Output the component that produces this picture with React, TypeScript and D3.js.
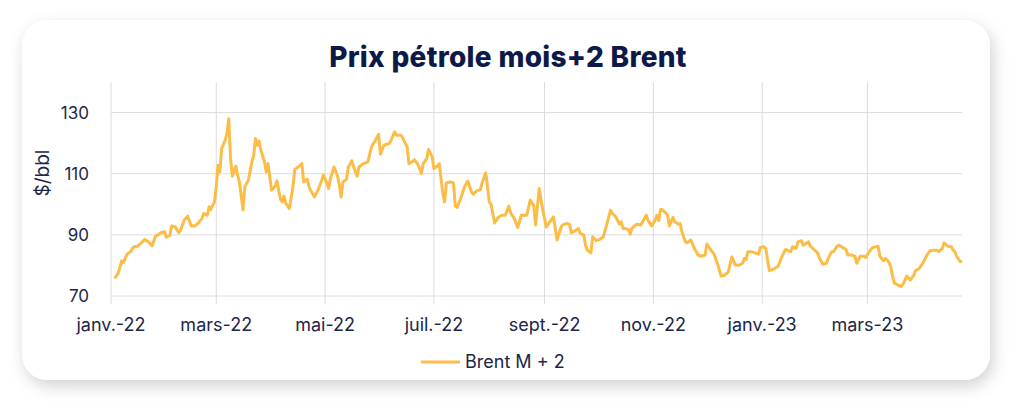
import { useMemo } from "react";
import * as d3 from "d3";

// Brent M+2: day offset from 2022-01-01 and $/bbl
const dayOffsets = [
    2, 4, 6, 7, 9, 11, 12, 13, 15, 17, 19, 21, 23, 25, 26, 28, 30, 31, 33, 34,
    36, 38, 39, 41, 43, 45, 47, 49, 51, 52, 54, 55, 56, 58, 59, 60, 61, 62, 64, 65,
    66, 67, 68, 70, 71, 72, 74, 75, 77, 79, 80, 81, 82, 83, 84, 86, 87, 88, 90, 92,
    93, 95, 96, 97, 98, 100, 102, 103, 105, 107, 108, 110, 111, 112, 114, 116, 118, 119, 120, 122,
    123, 125, 127, 128, 129, 130, 132, 133, 135, 136, 138, 139, 141, 144, 146, 148, 150, 151, 153, 156,
    157, 159, 160, 162, 163, 165, 166, 167, 169, 170, 172, 174, 175, 177, 178, 180, 181, 183, 184, 186,
    187, 188, 190, 192, 193, 194, 196, 198, 200, 202, 203, 205, 207, 208, 210, 211, 212, 213, 215, 217,
    219, 221, 223, 224, 226, 228, 230, 232, 233, 235, 237, 238, 239, 240, 242, 243, 244, 246, 248, 250,
    252, 253, 255, 257, 258, 260, 262, 263, 265, 266, 267, 269, 270, 272, 274, 276, 278, 280, 281, 283,
    285, 286, 287, 288, 290, 291, 292, 294, 295, 297, 300, 301, 303, 305, 306, 307, 308, 309, 312, 313,
    315, 316, 318, 319, 320, 322, 323, 325, 327, 329, 331, 333, 334, 336, 338, 340, 342, 344, 346, 348,
    350, 352, 354, 355, 356, 357, 359, 361, 363, 364, 366, 367, 369, 370, 372, 374, 376, 378, 379, 381,
    382, 384, 385, 387, 388, 391, 392, 394, 396, 397, 399, 401, 402, 404, 405, 407, 408, 410, 412, 413,
    415, 417, 418, 420, 422, 423, 425, 427, 429, 430, 431, 433, 434, 436, 437, 438, 439, 441, 443, 444,
    446, 448, 450, 451, 453, 455, 457, 459, 461, 463, 464, 466, 467, 469, 471, 472, 473, 474, 476, 477,
];
const brentValues = [
    75.8, 77.4, 81.5, 80.9, 83.7, 84.5, 85.6, 86.1, 86.3, 87.4, 88.5, 87.7, 86.4, 89.6, 89.9, 90.7, 91.0, 89.2, 89.9, 92.9,
    92.6, 90.7, 91.5, 94.8, 96.1, 92.9, 92.9, 93.9, 95.4, 97.0, 96.4, 99.2, 98.3, 100.8, 105.7, 112.8, 110.6, 118.2, 121.0, 123.1,
    128.0, 115.0, 109.2, 112.5, 109.5, 107.3, 98.1, 105.7, 107.9, 113.9, 116.1, 121.5, 119.3, 120.7, 117.7, 113.9, 110.6, 113.3, 104.6, 105.9,
    107.7, 101.6, 100.8, 102.7, 100.3, 98.6, 105.7, 111.4, 112.2, 113.3, 107.3, 108.2, 105.7, 104.4, 102.4, 104.6, 107.6, 109.5, 108.4, 105.2,
    108.4, 112.2, 109.2, 106.3, 102.4, 107.3, 108.1, 112.2, 114.2, 112.2, 109.2, 112.2, 113.1, 113.9, 118.8, 120.7, 122.9, 116.4, 119.3, 119.9,
    121.0, 123.7, 122.6, 122.6, 122.3, 119.9, 118.8, 113.3, 113.9, 114.6, 113.1, 110.1, 113.3, 115.0, 117.9, 115.5, 111.7, 112.5, 113.3, 103.5,
    100.8, 107.0, 107.3, 107.0, 99.4, 99.0, 101.9, 105.5, 107.6, 104.1, 103.3, 104.4, 104.8, 107.0, 110.3, 105.9, 100.8, 100.0, 93.9, 95.7,
    96.4, 96.4, 99.4, 97.2, 95.4, 92.4, 96.4, 96.4, 96.4, 101.4, 99.4, 93.2, 99.2, 105.2, 98.1, 95.4, 92.6, 94.3, 95.9, 88.3,
    92.1, 93.2, 93.7, 93.5, 90.7, 91.3, 92.1, 90.5, 89.9, 86.6, 85.0, 84.1, 89.4, 88.1, 88.5, 89.4, 93.7, 98.1, 97.0, 95.9,
    93.5, 94.3, 92.1, 92.1, 91.8, 90.2, 92.1, 93.2, 93.5, 93.2, 96.4, 94.8, 92.9, 94.8, 96.4, 94.6, 98.3, 98.3, 96.4, 92.9,
    95.7, 94.3, 93.5, 93.7, 91.0, 87.7, 87.4, 88.3, 85.6, 83.4, 83.0, 83.4, 87.0, 85.2, 83.7, 80.4, 76.5, 76.8, 77.9, 82.8,
    80.1, 80.1, 80.7, 82.3, 82.0, 84.5, 84.5, 84.1, 83.7, 85.9, 86.1, 85.6, 78.3, 78.5, 79.0, 79.8, 82.8, 85.2, 85.0, 84.5,
    86.1, 85.6, 87.7, 88.1, 86.6, 87.7, 86.3, 85.2, 84.1, 82.6, 80.4, 80.7, 82.3, 84.5, 84.5, 86.3, 86.6, 85.9, 85.2, 83.4,
    83.4, 83.0, 80.7, 83.0, 83.0, 82.6, 84.5, 85.9, 86.1, 86.3, 83.0, 81.5, 82.3, 81.2, 79.6, 76.8, 74.3, 73.6, 73.2, 73.9,
    76.5, 75.2, 76.8, 78.3, 79.0, 80.7, 83.0, 84.8, 85.0, 85.0, 84.5, 85.6, 87.4, 86.3, 86.1, 85.0, 84.5, 83.0, 81.2, 81.5,
];
const yTicks = [ 70, 90, 110, 130 ];
const xTickDates = [ "2022-01-01", "2022-03-01", "2022-05-01", "2022-07-01", "2022-09-01", "2022-11-01", "2023-01-01", "2023-03-01" ];
const xTickLabels = [ "janv.-22", "mars-22", "mai-22", "juil.-22", "sept.-22", "nov.-22", "janv.-23", "mars-23" ];

const W = 1024, H = 413;
const FONT = "Inter, 'Noto Sans', sans-serif";
const NAVY = "#1c2648";
const LINE = "#fbbd47";
const GRID = "#dcdcdc";

export default function App ()
{
    const start = new Date( 2022, 0, 1 );
    const m = { top: 82, right: 62, bottom: 117, left: 111 };

    const { x, y, path } = useMemo( () =>
    {
        const x = d3.scaleTime().domain( [ start, d3.timeDay.offset( start, 477 ) ] ).range( [ m.left, W - m.right ] );
        const y = d3.scaleLinear().domain( [ 70, 140 ] ).range( [ H - m.bottom, m.top ] );
        const pts = dayOffsets.map( ( d, i ) => ( { date: d3.timeDay.offset( start, d ), v: brentValues[ i ] } ) );
        const path = d3.line<any>().x( ( d ) => x( d.date ) ).y( ( d ) => y( d.v ) )( pts ) || "";
        return { x, y, path };
    }, [] );

    const parse = d3.timeParse( "%Y-%m-%d" );
    const [ x0, x1 ] = x.range();
    const [ yb, yt ] = y.range();

    return (
        <svg width={ W } height={ H } style={ { position: "absolute", left: 0, top: 0, background: "#fff" } }>
            <defs>
                <filter id="shadow" x="-10%" y="-20%" width="120%" height="140%">
                    <feDropShadow dx="3" dy="6" stdDeviation="8" floodColor="#000" floodOpacity="0.18" />
                </filter>
            </defs>
            <rect x={ 22 } y={ 20 } width={ 968 } height={ 360 } rx={ 26 } fill="#fff" filter="url(#shadow)" />

            <text x={ 508 } y={ 67 } textAnchor="middle" fill="#0d1a48" fontFamily={ FONT } fontWeight={ 800 } fontSize={ 28 } letterSpacing={ 0.3 }>
                Prix pétrole mois+2 Brent
            </text>

            {/* grid */ }
            { yTicks.map( ( t ) => (
                <line key={ t } x1={ x0 } x2={ x1 } y1={ y( t ) } y2={ y( t ) } stroke={ GRID } strokeWidth={ 1 } />
            ) ) }
            { xTickDates.map( ( d ) => (
                <line key={ d } x1={ x( parse( d )! ) } x2={ x( parse( d )! ) } y1={ yt } y2={ yb + 8 } stroke={ GRID } strokeWidth={ 1 } />
            ) ) }

            {/* axes labels */ }
            { yTicks.map( ( t ) => (
                <text key={ t } x={ 89 } y={ y( t ) + 6 } textAnchor="end" fill={ NAVY } fontFamily={ FONT } fontSize={ 17 }>{ t }</text>
            ) ) }
            { xTickDates.map( ( d, i ) => (
                <text key={ d } x={ x( parse( d )! ) } y={ 331 } textAnchor="middle" fill={ NAVY } fontFamily={ FONT } fontSize={ 18 }>
                    { xTickLabels[ i ] }
                </text>
            ) ) }
            <text transform={ `translate(49,${ ( yt + yb ) / 2 - 16 }) rotate(-90)` } textAnchor="middle" fill={ NAVY } fontFamily={ FONT } fontSize={ 19 }>
                $/bbl
            </text>

            {/* series */ }
            <path d={ path } fill="none" stroke={ LINE } strokeWidth={ 3 } strokeLinejoin="round" />

            {/* legend */ }
            <line x1={ 421 } x2={ 460 } y1={ 362 } y2={ 362 } stroke={ LINE } strokeWidth={ 3 } />
            <text x={ 465 } y={ 368 } fill={ NAVY } fontFamily={ FONT } fontSize={ 18 }>Brent M + 2</text>
        </svg>
    );
}
